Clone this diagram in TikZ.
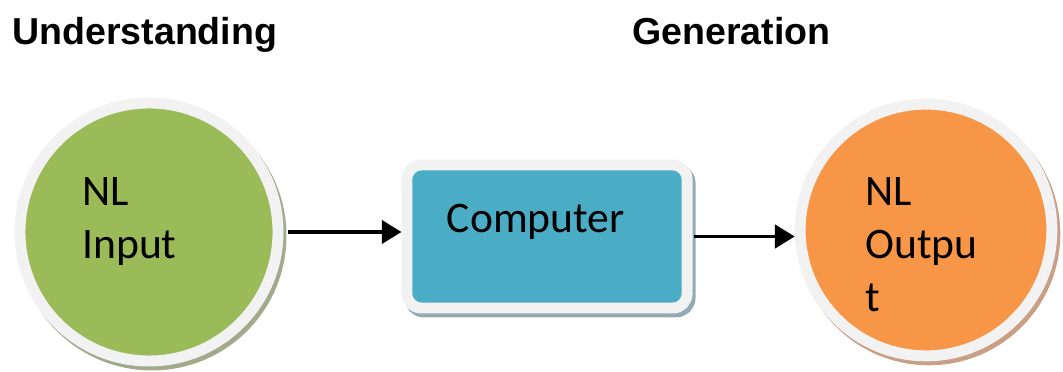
\documentclass[tikz,border=0pt]{standalone}
\usepackage{fontspec}
\setmainfont{Carlito}
\newfontfamily\headfont{Liberation Sans}
\usetikzlibrary{arrows.meta}

\definecolor{inpgreen}{HTML}{9BBB59}
\definecolor{inpshadow}{HTML}{A3A98B}
\definecolor{compblue}{HTML}{4BACC6}
\definecolor{compshadow}{HTML}{93AAB4}
\definecolor{outorange}{HTML}{F79646}
\definecolor{outshadow}{HTML}{C9A085}
\definecolor{ringgray}{HTML}{F2F2F2}

\tikzset{
  head/.style={anchor=base west, inner sep=0pt, font=\headfont\bfseries\fontsize{26.7pt}{32pt}\selectfont},
  txt/.style={inner sep=0pt, align=left, font=\fontsize{31pt}{37.7pt}\selectfont},
  ring/.style={draw=ringgray, line width=7.8pt},
  sh/.style={preaction={draw=#1, fill=#1, transform canvas={shift={(2.1pt,-2.8pt)}}}},
  arr/.style={-{Triangle[length=14pt, width=16.5pt]}, line width=2.6pt}
}

\begin{document}
\begin{tikzpicture}[x=0.025cm, y=0.025cm]
\useasboundingbox (0,0) rectangle (1063,372);

% titles
\node[head] (und) at (12,327) {Understanding};
\node[head] (gen) at (632,327) {Generation};

% the three blocks
\node[circle, ring, sh=inpshadow, fill=inpgreen, minimum size=183.5pt] (inp) at (149,140) {};
\node[rectangle, rounded corners=10pt, ring, sh=compshadow, fill=compblue, txt,
      text width=142.3pt, inner xsep=28.45pt, inner ysep=0pt,
      text height=47.7pt, text depth=54pt] (comp) at (547,135.5) {Computer};
\node[circle, ring, sh=outshadow, fill=outorange, minimum size=179pt] (outp) at (926,142) {};

\node[txt, anchor=north west] (inptxt) at (82,195) {NL\\Input};
\node[txt, anchor=north west] (outtxt) at (865,195) {NL\\Outpu\\t};

% arrows
\draw[arr, shorten <=3pt] (inp.east) -- (inp.east -| comp.west);
\draw[arr, shorten <=1pt] (comp.east) -- (comp.east -| outp.west);
\end{tikzpicture}
\end{document}
